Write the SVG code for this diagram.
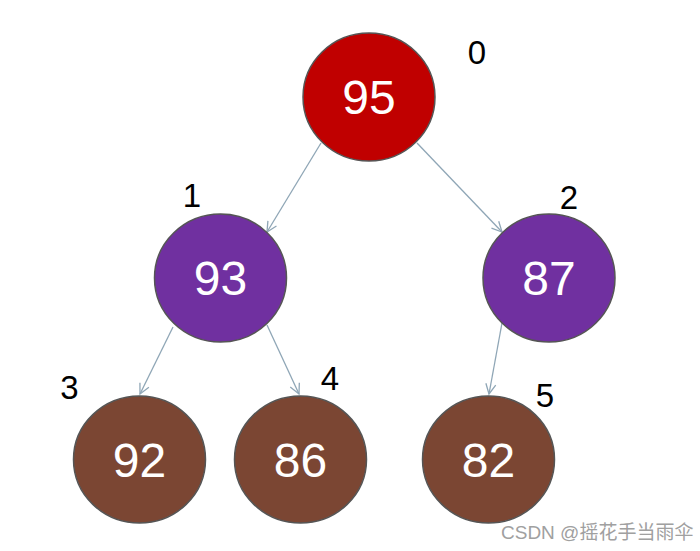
<svg xmlns="http://www.w3.org/2000/svg" width="700" height="551" viewBox="0 0 700 551">
<style>
.node{stroke:#555555;stroke-width:1.5}
.red{fill:#C00000}
.pur{fill:#7030A0}
.brn{fill:#7B4633}
.val{font-family:"Liberation Sans",Arial,sans-serif;font-size:48px;fill:#FFFFFF;text-anchor:middle}
.idx{font-family:"Liberation Sans",Arial,sans-serif;font-size:33px;fill:#000000;text-anchor:middle}
.edge{stroke:#8FA6B6;stroke-width:1.3;fill:none}
.wm{font-family:"Liberation Sans","Noto Sans CJK SC",sans-serif;font-size:19px;fill:#A0A0A0}
</style>
<defs>
<marker id="arr" markerWidth="14" markerHeight="14" refX="11" refY="6" orient="auto" markerUnits="userSpaceOnUse">
<path d="M1,1 L11,6 L1,11" fill="none" stroke="#8FA6B6" stroke-width="1.3"/>
</marker>
</defs>
<rect width="700" height="551" fill="#FFFFFF"/>
<g id="connectors">
<line class="edge" x1="321" y1="143" x2="267" y2="232" marker-end="url(#arr)"/>
<line class="edge" x1="417" y1="143" x2="502" y2="232" marker-end="url(#arr)"/>
<line class="edge" x1="173" y1="327" x2="140" y2="394" marker-end="url(#arr)"/>
<line class="edge" x1="267" y1="325" x2="299" y2="394" marker-end="url(#arr)"/>
<line class="edge" x1="502" y1="323" x2="489" y2="394" marker-end="url(#arr)"/>
</g>
<g id="n0">
<ellipse class="node red" cx="369" cy="97" rx="66" ry="64"/>
<text class="val" x="369" y="114">95</text>
<text class="idx" x="477" y="64">0</text>
</g>
<g id="n1">
<ellipse class="node pur" cx="220.5" cy="278" rx="66" ry="64"/>
<text class="val" x="220.5" y="295">93</text>
<text class="idx" x="192" y="207">1</text>
</g>
<g id="n2">
<ellipse class="node pur" cx="549" cy="278" rx="66" ry="64"/>
<text class="val" x="549" y="295">87</text>
<text class="idx" x="569" y="209">2</text>
</g>
<g id="n3">
<ellipse class="node brn" cx="139.5" cy="459.5" rx="66" ry="63.5"/>
<text class="val" x="139.5" y="477">92</text>
<text class="idx" x="69.5" y="399">3</text>
</g>
<g id="n4">
<ellipse class="node brn" cx="300.5" cy="459.5" rx="66" ry="63.5"/>
<text class="val" x="300.5" y="477">86</text>
<text class="idx" x="330" y="390">4</text>
</g>
<g id="n5">
<ellipse class="node brn" cx="488.5" cy="459.5" rx="66" ry="63.5"/>
<text class="val" x="488.5" y="477">82</text>
<text class="idx" x="545" y="407">5</text>
</g>
<text class="wm" x="501" y="539">CSDN @摇花手当雨伞</text>
</svg>
